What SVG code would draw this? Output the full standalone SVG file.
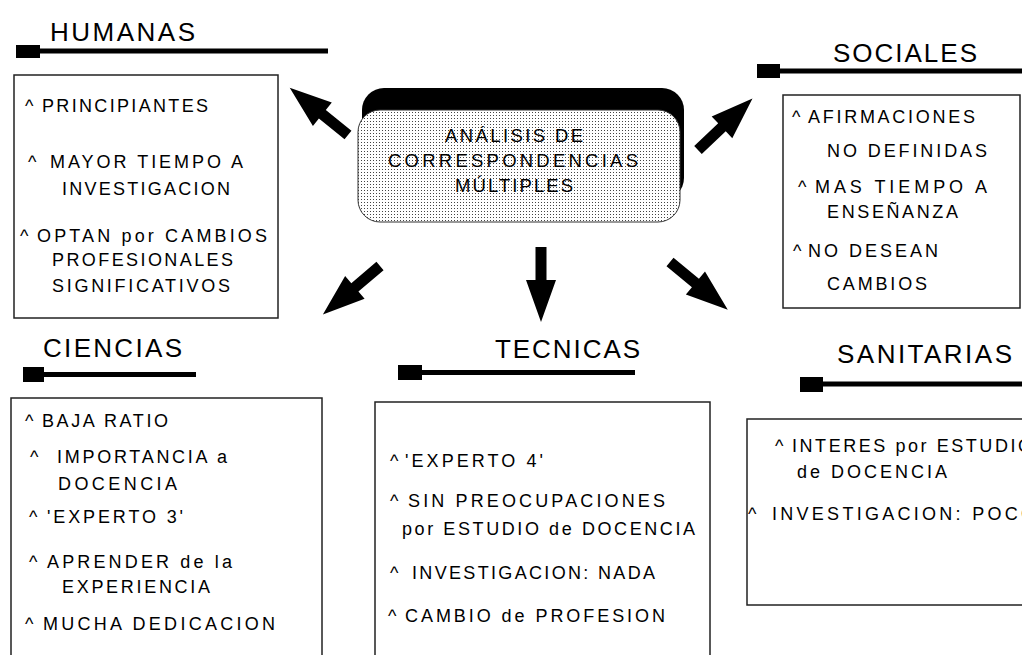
<svg xmlns="http://www.w3.org/2000/svg" width="1022" height="655" viewBox="0 0 1022 655">
<style>
.t{font-family:"Liberation Sans",Arial,sans-serif;font-size:18px;fill:#000}
.c{font-family:"Liberation Sans",Arial,sans-serif;font-size:18.5px;fill:#000}
.h{font-family:"Liberation Sans",Arial,sans-serif;font-size:26px;fill:#000}
.box{fill:#fff;stroke:#222;stroke-width:1.5}
.bar{stroke:#000;stroke-width:5}
.mk{fill:#000}
.arr{fill:#000}
</style>
<defs>
<pattern id="dots" width="3" height="3" patternUnits="userSpaceOnUse">
<rect width="3" height="3" fill="#fff"/>
<rect x="1" y="1" width="1" height="1" fill="#444"/>
</pattern>
<path id="arrow" d="M0,-5.5 L33,-5.5 L33,-15 L75,0 L33,15 L33,5.5 L0,5.5 Z"/>
</defs>
<rect width="1022" height="655" fill="#fff"/>

<g id="connectors" class="arr">
<use href="#arrow" transform="translate(348,135) rotate(-141)"/>
<use href="#arrow" transform="translate(698,150) rotate(-43.4)"/>
<use href="#arrow" transform="translate(380,266) rotate(139.6)"/>
<use href="#arrow" transform="translate(541,247) rotate(90)"/>
<use href="#arrow" transform="translate(670,262) rotate(39.6)"/>
</g>

<g id="center">
<rect x="362" y="88" width="322" height="112" rx="22" fill="#000"/>
<rect x="358" y="110" width="322" height="112" rx="22" fill="url(#dots)" stroke="#333" stroke-width="1"/>
<text class="c" x="445" y="142" textLength="138" lengthAdjust="spacing">ANÁLISIS DE</text>
<text class="c" x="388" y="167" textLength="250" lengthAdjust="spacing">CORRESPONDENCIAS</text>
<text class="c" x="455" y="192" textLength="118" lengthAdjust="spacing">MÚLTIPLES</text>
</g>

<g id="humanas">
<text class="h" x="50" y="41" textLength="145" lengthAdjust="spacing">HUMANAS</text>
<rect class="mk" x="16" y="45" width="24" height="13"/>
<line class="bar" x1="40" y1="51" x2="328" y2="51"/>
<rect class="box" x="14" y="75" width="264" height="243"/>
<text class="t" y="112"><tspan x="25">^</tspan><tspan x="42" textLength="166" lengthAdjust="spacing">PRINCIPIANTES</tspan></text>
<text class="t" y="168"><tspan x="28">^</tspan><tspan x="50" textLength="193" lengthAdjust="spacing">MAYOR TIEMPO A</tspan></text>
<text class="t" x="62" y="195" textLength="168" lengthAdjust="spacing">INVESTIGACION</text>
<text class="t" y="242"><tspan x="20">^</tspan><tspan x="37" textLength="230" lengthAdjust="spacing">OPTAN por CAMBIOS</tspan></text>
<text class="t" x="52" y="266" textLength="181" lengthAdjust="spacing">PROFESIONALES</text>
<text class="t" x="52" y="292" textLength="178" lengthAdjust="spacing">SIGNIFICATIVOS</text>
</g>

<g id="sociales">
<text class="h" x="833" y="62" textLength="144" lengthAdjust="spacing">SOCIALES</text>
<rect class="mk" x="757" y="64" width="23" height="14"/>
<line class="bar" x1="780" y1="71" x2="1022" y2="71"/>
<rect class="box" x="783" y="95" width="237" height="213"/>
<text class="t" y="123"><tspan x="792">^</tspan><tspan x="808" textLength="167" lengthAdjust="spacing">AFIRMACIONES</tspan></text>
<text class="t" x="827" y="157" textLength="160" lengthAdjust="spacing">NO DEFINIDAS</text>
<text class="t" y="193"><tspan x="798">^</tspan><tspan x="815" textLength="172" lengthAdjust="spacing">MAS TIEMPO A</tspan></text>
<text class="t" x="827" y="218" textLength="131" lengthAdjust="spacing">ENSEÑANZA</text>
<text class="t" y="257"><tspan x="793">^</tspan><tspan x="808" textLength="130" lengthAdjust="spacing">NO DESEAN</tspan></text>
<text class="t" x="827" y="290" textLength="100" lengthAdjust="spacing">CAMBIOS</text>
</g>

<g id="ciencias">
<text class="h" x="43" y="357" textLength="139" lengthAdjust="spacing">CIENCIAS</text>
<rect class="mk" x="23" y="367" width="21" height="15"/>
<line class="bar" x1="44" y1="374.5" x2="196" y2="374.5"/>
<rect class="box" x="11" y="398" width="311" height="270"/>
<text class="t" y="427"><tspan x="25">^</tspan><tspan x="42" textLength="126" lengthAdjust="spacing">BAJA RATIO</tspan></text>
<text class="t" y="463"><tspan x="30">^</tspan><tspan x="57" textLength="170" lengthAdjust="spacing">IMPORTANCIA a</tspan></text>
<text class="t" x="58" y="490" textLength="119" lengthAdjust="spacing">DOCENCIA</text>
<text class="t" y="523"><tspan x="29">^</tspan><tspan x="47" textLength="136" lengthAdjust="spacing">'EXPERTO 3'</tspan></text>
<text class="t" y="568"><tspan x="29">^</tspan><tspan x="47" textLength="185" lengthAdjust="spacing">APRENDER de la</tspan></text>
<text class="t" x="62" y="593" textLength="148" lengthAdjust="spacing">EXPERIENCIA</text>
<text class="t" y="630"><tspan x="25">^</tspan><tspan x="43" textLength="232" lengthAdjust="spacing">MUCHA DEDICACION</tspan></text>
</g>

<g id="tecnicas">
<text class="h" x="495" y="358" textLength="145" lengthAdjust="spacing">TECNICAS</text>
<rect class="mk" x="398" y="365" width="24" height="15"/>
<line class="bar" x1="422" y1="372.5" x2="635" y2="372.5"/>
<rect class="box" x="375" y="402" width="335" height="266"/>
<text class="t" y="467"><tspan x="390">^</tspan><tspan x="405" textLength="138" lengthAdjust="spacing">'EXPERTO 4'</tspan></text>
<text class="t" y="507"><tspan x="390">^</tspan><tspan x="408" textLength="257" lengthAdjust="spacing">SIN PREOCUPACIONES</tspan></text>
<text class="t" x="402" y="535" textLength="293" lengthAdjust="spacing">por ESTUDIO de DOCENCIA</text>
<text class="t" y="579"><tspan x="390">^</tspan><tspan x="412" textLength="243" lengthAdjust="spacing">INVESTIGACION: NADA</tspan></text>
<text class="t" y="622"><tspan x="388">^</tspan><tspan x="405" textLength="260" lengthAdjust="spacing">CAMBIO de PROFESION</tspan></text>
</g>

<g id="sanitarias">
<text class="h" x="837" y="363" textLength="175" lengthAdjust="spacing">SANITARIAS</text>
<rect class="mk" x="800" y="377" width="23" height="15"/>
<line class="bar" x1="823" y1="384" x2="1022" y2="384"/>
<rect class="box" x="747" y="419" width="290" height="186"/>
<text class="t" y="452"><tspan x="775">^</tspan><tspan x="792" textLength="240" lengthAdjust="spacing">INTERES por ESTUDIO</tspan></text>
<text class="t" x="797" y="478" textLength="150" lengthAdjust="spacing">de DOCENCIA</text>
<text class="t" y="520"><tspan x="748">^</tspan><tspan x="772" textLength="263" lengthAdjust="spacing">INVESTIGACION: POCO</tspan></text>
</g>
</svg>
